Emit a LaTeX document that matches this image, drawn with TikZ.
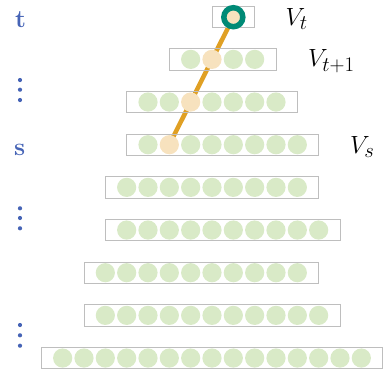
\documentclass[tikz,border=0pt]{standalone}
\usetikzlibrary{backgrounds}
\definecolor{lblue}{RGB}{70,100,182}
\definecolor{cteal}{RGB}{0,138,118}
\definecolor{corange}{RGB}{224,160,36}
\definecolor{cpeach}{RGB}{247,226,190}
\definecolor{cgreen}{RGB}{217,234,199}
\definecolor{cgray}{RGB}{190,190,190}
\begin{document}
\begin{tikzpicture}[x=1pt,y=-1pt,
  cell/.style={circle,minimum size=19.2pt,inner sep=0pt,fill=cgreen},
  hot/.style={circle,minimum size=19.2pt,inner sep=0pt,fill=cpeach},
  rowbox/.style={draw=cgray,line width=0.9pt,inner sep=0pt,minimum height=21.3pt},
  ring/.style={circle,inner sep=0pt,minimum size=19pt,fill=cpeach,draw=cteal,line width=5.5pt},
  vdot/.style={circle,fill=lblue,inner sep=0pt,minimum size=4.2pt},
  lvl/.style={anchor=base west,text=lblue,font=\fontsize{25}{30}\selectfont\bfseries,inner sep=0pt},
  vlab/.style={anchor=base west,font=\fontsize{29}{34}\selectfont,inner sep=0pt},
  path/.style={draw=corange,line width=4.5pt}]
\useasboundingbox (0,0) rectangle (386,368);
\clip (0,0) rectangle (386,368);
\def\u{21.333}
\def\xo{62.667}
% rows: index / start k / count / hot position
\foreach \i/\k/\n/\h in {1/6/4/2,2/4/7/3,3/4/8/2,4/3/9/0,5/3/10/0,6/2/10/0,7/2/11/0,8/0/15/0}{
  \pgfmathsetmacro{\yy}{16.7+42.667*\i}
  \pgfmathsetmacro{\bx}{\xo+(\k+(\n-1)/2)*\u}
  \pgfmathsetmacro{\bw}{(\n+1)*\u}
  \node[rowbox,minimum width=\bw pt] (box-\i) at (\bx,\yy) {};
  \foreach \j in {1,...,\n}{
    \pgfmathsetmacro{\cx}{\xo+(\k+\j-1)*\u}
    \ifnum\j=\h\def\st{hot}\else\def\st{cell}\fi
    \node[\st] (c-\i-\j) at (\cx,\yy) {};
  }
}
% top row
\node[rowbox,minimum width=42.667pt] (box-0) at (233.33,16.7) {};
\node[ring] (c-0-1) at (233.33,17.2) {};
% path
\begin{scope}[on background layer]
  \draw[path] (c-0-1.center) -- (c-3-2.center);
\end{scope}
% labels
\node[lvl] (lt) at (15,27.5) {t};
\node[lvl] (ls) at (14,155.5) {s};
\node[vlab] (vt) at (285.5,25) {$V_t$};
\node[vlab] (vt1) at (308,66.5) {$V_{t+1}$};
\node[vlab] (vs) at (350,153.3) {$V_s$};
% dots
\foreach \g/\a/\b/\c in {1/80/89.7/100,2/208.3/218/228.3,3/325/335.3/345.7}{
  \node[vdot] (d-\g-1) at (20,\a) {};
  \node[vdot] (d-\g-2) at (20,\b) {};
  \node[vdot] (d-\g-3) at (20,\c) {};
}
\end{tikzpicture}
\end{document}
